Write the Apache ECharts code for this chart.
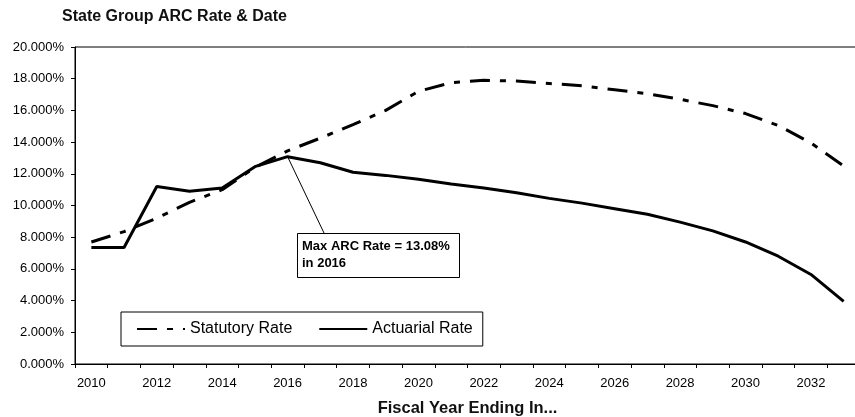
<!DOCTYPE html>
<html>
<head>
<meta charset="utf-8">
<title>State Group ARC Rate & Date</title>
<script src="https://cdn.jsdelivr.net/npm/echarts@6/dist/echarts.min.js"></script>
<style>
  html, body { margin: 0; padding: 0; background: #fff; }
  #chart { width: 855px; height: 417px; }
</style>
</head>
<body>
<div id="chart"></div>
<script>
// fiscal years on the x axis
var years = ['2010','2011','2012','2013','2014','2015','2016','2017','2018','2019','2020','2021',
             '2022','2023','2024','2025','2026','2027','2028','2029','2030','2031','2032','2033'];

// rates in percent
var statutoryRate = [7.7, 8.35, 9.2, 10.2, 11.0, 12.4, 13.45, 14.25, 15.1, 16.0, 17.2, 17.75,
                     17.9, 17.85, 17.7, 17.55, 17.3, 17.05, 16.7, 16.3, 15.8, 15.05, 13.95, 12.5];
var actuarialRate = [7.35, 7.35, 11.2, 10.9, 11.1, 12.45, 13.08, 12.7, 12.1, 11.9, 11.65, 11.35,
                     11.1, 10.8, 10.45, 10.15, 9.8, 9.45, 8.95, 8.4, 7.7, 6.8, 5.65, 3.95];

var peakYear = '2016';
var peakRate = 13.08;

var fontFam = '"Liberation Sans", Arial, sans-serif';

var myChart = echarts.init(document.getElementById('chart'));

var option = {
  animation: false,
  backgroundColor: '#fff',
  textStyle: { fontFamily: fontFam, color: '#000' },
  title: {
    text: 'State Group ARC Rate & Date',
    left: 57,
    top: 4,
    textStyle: { fontSize: 16, fontWeight: 'bold', color: '#111', fontFamily: fontFam }
  },
  grid: {
    left: 75,
    right: -5,
    top: 47,
    bottom: 53,
    containLabel: false,
    outerBoundsMode: 'none',
    show: true,
    borderColor: '#000',
    borderWidth: 1
  },
  legend: {
    left: 121,
    top: 312,
    padding: [9, 10, 9, 15],
    borderColor: '#000',
    borderWidth: 1,
    backgroundColor: '#fff',
    itemWidth: 48,
    itemHeight: 14,
    itemGap: 26,
    itemStyle: { opacity: 0 },
    textStyle: { fontSize: 16, color: '#000', fontFamily: fontFam },
    data: ['Statutory Rate', 'Actuarial Rate']
  },
  xAxis: {
    type: 'category',
    data: years,
    boundaryGap: true,
    name: 'Fiscal Year Ending In...',
    nameLocation: 'middle',
    nameGap: 36,
    nameTextStyle: { fontSize: 16.5, fontWeight: 'bold', color: '#111', fontFamily: fontFam },
    axisLine: { lineStyle: { color: '#000', width: 1 } },
    axisTick: { show: true, length: 4, interval: 0, lineStyle: { color: '#000' } },
    axisLabel: { interval: 1, fontSize: 13, color: '#000', margin: 13, fontFamily: fontFam },
    splitLine: { show: false }
  },
  yAxis: {
    type: 'value',
    min: 0,
    max: 20,
    interval: 2,
    axisLine: { show: true, lineStyle: { color: '#000', width: 1 } },
    axisTick: { show: true, length: 4, lineStyle: { color: '#000' } },
    axisLabel: {
      fontSize: 13,
      color: '#000',
      margin: 11,
      fontFamily: fontFam,
      formatter: function (v) { return v.toFixed(3) + '%'; }
    },
    splitLine: { show: false }
  },
  series: [
    {
      name: 'Statutory Rate',
      type: 'line',
      data: statutoryRate,
      symbol: 'none',
      lineStyle: { color: '#000', width: 3, type: [20, 10, 6, 10] },
      itemStyle: { color: '#000' },
      z: 2
    },
    {
      name: 'Actuarial Rate',
      type: 'line',
      data: actuarialRate,
      symbol: 'none',
      lineStyle: { color: '#000', width: 3, type: 'solid' },
      itemStyle: { color: '#000' },
      z: 3,
      markLine: {
        silent: true,
        symbol: ['none', 'arrow'],
        symbolSize: [0, 9],
        label: { show: false },
        lineStyle: { color: '#000', width: 1, type: 'solid' },
        data: [
          [ { x: 324, y: 233 }, { coord: [peakYear, peakRate] } ]
        ]
      }
    }
  ],
  graphic: [
    {
      type: 'rect',
      left: 297,
      top: 233,
      shape: { width: 162, height: 44 },
      style: { fill: '#fff', stroke: '#000', lineWidth: 1 },
      z: 10
    },
    {
      type: 'text',
      left: 302,
      top: 238,
      style: {
        text: 'Max ARC Rate = ' + peakRate.toFixed(2) + '%\nin ' + peakYear,
        font: 'bold 13px ' + fontFam,
        lineHeight: 17,
        fill: '#000'
      },
      z: 11
    }
  ]
};

myChart.setOption(option);
window.addEventListener('resize', function () {
  myChart.resize();
});
</script>
</body>
</html>
